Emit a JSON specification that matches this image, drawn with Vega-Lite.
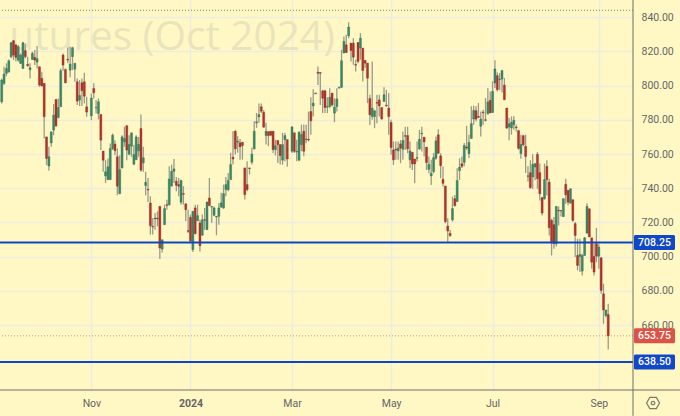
{"$schema":"https://vega.github.io/schema/vega-lite/v6.json","width":633,"height":390,"autosize":{"type":"none"},"padding":{"left":0,"top":0,"right":47,"bottom":26},"background":"#FFF8C5","config":{"view":{"stroke":null}},"data":{"values":[
{"i":0,"open":790.5,"high":804.2,"low":789.5,"close":803.2},{"i":1,"open":801.3,"high":811,"low":800.3,"close":806.7},{"i":2,"open":807.1,"high":813,"low":805.5,"close":810},{"i":3,"open":808,"high":815.3,"low":807.5,"close":814.5},{"i":4,"open":816.9,"high":825.6,"low":815.9,"close":825},{"i":5,"open":826.2,"high":826.6,"low":814.9,"close":817.8},{"i":6,"open":823.7,"high":824.5,"low":814,"close":816.5},{"i":7,"open":814.9,"high":823.7,"low":813.9,"close":822.7},{"i":8,"open":813,"high":818.8,"low":812.6,"close":817.8},{"i":9,"open":810,"high":825.6,"low":810,"close":825},{"i":10,"open":820.4,"high":824.6,"low":815.9,"close":816.9},{"i":11,"open":812.4,"high":816.9,"low":811,"close":811.6},{"i":12,"open":809.2,"high":813,"low":804.2,"close":810.4},{"i":13,"open":815.3,"high":819.8,"low":814.9,"close":818.8},{"i":14,"open":816.5,"high":820.8,"low":812,"close":814.9},{"i":15,"open":813.7,"high":823.1,"low":810,"close":815.7},{"i":16,"open":811,"high":811,"low":799.3,"close":800.3},{"i":17,"open":804.2,"high":808,"low":799.7,"close":799.7},{"i":18,"open":801.3,"high":801.3,"low":769,"close":781.8},{"i":19,"open":770,"high":770,"low":753.5,"close":757.4},{"i":20,"open":753,"high":764.2,"low":750.2,"close":758.4},{"i":21,"open":766.5,"high":773,"low":764.2,"close":773},{"i":22,"open":774,"high":789.2,"low":771,"close":782.7},{"i":23,"open":791.9,"high":791.9,"low":776.3,"close":776.3},{"i":24,"open":781.4,"high":792.5,"low":780.8,"close":787.2},{"i":25,"open":787.6,"high":810,"low":787.6,"close":808.7},{"i":26,"open":817.8,"high":818.8,"low":808.7,"close":812},{"i":27,"open":809.4,"high":810,"low":801.3,"close":801.6},{"i":28,"open":815.3,"high":822.3,"low":813,"close":814.9},{"i":29,"open":809,"high":822.7,"low":804.8,"close":812.6},{"i":30,"open":816.9,"high":822.7,"low":809,"close":822.1},{"i":31,"open":809.6,"high":813,"low":802.2,"close":813},{"i":32,"open":802.2,"high":804.2,"low":788.6,"close":790.9},{"i":33,"open":791.5,"high":803.2,"low":788,"close":794.2},{"i":34,"open":801.6,"high":804.2,"low":788,"close":797},{"i":35,"open":802.2,"high":807.5,"low":789.5,"close":793.8},{"i":36,"open":787.6,"high":793.5,"low":781.8,"close":784.5},{"i":38,"open":782.3,"high":795.4,"low":779.8,"close":792.7},{"i":39,"open":798.3,"high":801.3,"low":792.5,"close":795.8},{"i":40,"open":787,"high":791.5,"low":783.7,"close":787.2},{"i":41,"open":783.7,"high":792.5,"low":780.2,"close":790.5},{"i":42,"open":783.1,"high":783.1,"low":762.3,"close":768.1},{"i":43,"open":761.7,"high":761.7,"low":749.6,"close":756.4},{"i":44,"open":747.2,"high":756.4,"low":743.1,"close":749.6},{"i":45,"open":745.1,"high":757.4,"low":744.7,"close":752.5},{"i":46,"open":745.1,"high":766.2,"low":744.7,"close":763.2},{"i":47,"open":763.2,"high":772,"low":762.3,"close":771},{"i":48,"open":765.8,"high":768.1,"low":759.3,"close":761.9},{"i":49,"open":758.4,"high":763.2,"low":735.9,"close":741.2},{"i":50,"open":736.9,"high":759.3,"low":736.5,"close":750.9},{"i":51,"open":751.9,"high":771,"low":751.5,"close":770},{"i":52,"open":767.1,"high":775.9,"low":764.2,"close":769},{"i":53,"open":776.5,"high":776.9,"low":756.4,"close":762.3},{"i":54,"open":759.9,"high":771,"low":759.3,"close":765.6},{"i":55,"open":764.6,"high":772.4,"low":758.4,"close":772.4},{"i":56,"open":754.1,"high":765.2,"low":753.5,"close":759.7},{"i":57,"open":756.8,"high":771,"low":756.4,"close":770},{"i":58,"open":761.9,"high":770,"low":758.4,"close":765.6},{"i":59,"open":774.9,"high":783.1,"low":749.6,"close":750.6},{"i":60,"open":754.8,"high":764.2,"low":749.6,"close":757.8},{"i":61,"open":741.6,"high":749.6,"low":735.9,"close":743.5},{"i":62,"open":739.4,"high":746,"low":732,"close":739},{"i":63,"open":731.4,"high":735.3,"low":712.9,"close":718.1},{"i":64,"open":717.7,"high":722.6,"low":712.9,"close":717.4},{"i":65,"open":722.6,"high":725.6,"low":715.8,"close":722.2},{"i":66,"open":722,"high":726.5,"low":717.7,"close":722.6},{"i":67,"open":729.4,"high":729.4,"low":698.6,"close":705.1},{"i":68,"open":704.5,"high":709.9,"low":702.5,"close":709.9},{"i":69,"open":718.7,"high":730.4,"low":718.7,"close":728.1},{"i":70,"open":730.4,"high":733.3,"low":727.5,"close":730},{"i":71,"open":730.4,"high":752.9,"low":729.8,"close":745.4},{"i":72,"open":741.2,"high":753.8,"low":741.2,"close":749.9},{"i":73,"open":749.9,"high":757.1,"low":743.1,"close":751.3},{"i":74,"open":744.1,"high":746.6,"low":738.2,"close":741.7},{"i":75,"open":742.1,"high":746,"low":735.3,"close":741.2},{"i":76,"open":731.8,"high":745,"low":730.4,"close":744.5},{"i":77,"open":736.9,"high":741.2,"low":730.4,"close":736.5},{"i":78,"open":730.8,"high":731.4,"low":720.7,"close":727.5},{"i":79,"open":715.2,"high":727.5,"low":713.9,"close":714.8},{"i":80,"open":723,"high":724.6,"low":709,"close":709},{"i":81,"open":704.1,"high":726.5,"low":702.7,"close":726.5},{"i":82,"open":728.5,"high":730.4,"low":712.9,"close":713.5},{"i":83,"open":721.1,"high":730.4,"low":720.7,"close":724},{"i":84,"open":719.7,"high":721.6,"low":703.1,"close":706.4},{"i":85,"open":712.5,"high":724.6,"low":712.5,"close":721.6},{"i":86,"open":721.6,"high":728.5,"low":715.8,"close":721.3},{"i":87,"open":715.8,"high":732,"low":715.8,"close":732},{"i":88,"open":734.3,"high":746,"low":729.8,"close":729.8},{"i":89,"open":729,"high":729.4,"low":719.7,"close":729.4},{"i":90,"open":724.2,"high":729.4,"low":723.6,"close":728.5},{"i":91,"open":723.2,"high":723.6,"low":712.5,"close":723.6},{"i":92,"open":723.6,"high":731.4,"low":718.7,"close":728.5},{"i":93,"open":729.1,"high":737.3,"low":728.5,"close":731.4},{"i":94,"open":728.5,"high":742.1,"low":727.9,"close":736.9},{"i":95,"open":739.2,"high":746.6,"low":735.3,"close":742.1},{"i":96,"open":739.2,"high":748.9,"low":738.2,"close":744.5},{"i":97,"open":745,"high":760.7,"low":745,"close":753.8},{"i":98,"open":758.1,"high":773.3,"low":753.8,"close":757.1},{"i":99,"open":773.3,"high":773.9,"low":759.7,"close":763},{"i":100,"open":766.9,"high":770.4,"low":760.7,"close":767.5},{"i":101,"open":766.5,"high":768.8,"low":756.7,"close":764.2},{"i":102,"open":766.9,"high":766.9,"low":756.7,"close":764.9},{"i":103,"open":751.9,"high":751.9,"low":733.4,"close":736.3},{"i":104,"open":742.1,"high":755.8,"low":738.2,"close":739.2},{"i":105,"open":751.9,"high":751.9,"low":748,"close":751.5},{"i":106,"open":755.2,"high":763.6,"low":753.8,"close":760},{"i":107,"open":763,"high":779.2,"low":762.6,"close":773.3},{"i":108,"open":778.2,"high":784,"low":775.3,"close":778.8},{"i":109,"open":781.7,"high":789.5,"low":778.2,"close":783.1},{"i":110,"open":787.6,"high":789.5,"low":784,"close":785},{"i":111,"open":784.4,"high":785.6,"low":775.3,"close":775.7},{"i":112,"open":770.8,"high":778.2,"low":765.5,"close":773.3},{"i":113,"open":773.1,"high":773.1,"low":764.6,"close":770.8},{"i":114,"open":773.3,"high":773.3,"low":770.4,"close":771},{"i":115,"open":773.3,"high":773.3,"low":760.6,"close":762.6},{"i":116,"open":762.6,"high":768.4,"low":759.1,"close":764.9},{"i":117,"open":767.9,"high":767.9,"low":754.8,"close":765.5},{"i":118,"open":765.5,"high":765.5,"low":753.8,"close":759.1},{"i":119,"open":756.4,"high":772.4,"low":753.8,"close":765.5},{"i":120,"open":768.4,"high":772.4,"low":755.8,"close":770.8},{"i":121,"open":768.4,"high":768.4,"low":752.5,"close":757.1},{"i":123,"open":761.6,"high":775.9,"low":760.6,"close":775.9},{"i":124,"open":772.4,"high":772.4,"low":760.6,"close":761.6},{"i":125,"open":761.2,"high":768.4,"low":755.8,"close":761.6},{"i":126,"open":756.4,"high":773.3,"low":755.8,"close":772.7},{"i":127,"open":765.5,"high":777.2,"low":761.6,"close":771.4},{"i":128,"open":773.3,"high":777.2,"low":758.7,"close":761.6},{"i":129,"open":768.4,"high":777.1,"low":766.3,"close":768.8},{"i":130,"open":768.6,"high":784.8,"low":767.3,"close":768.2},{"i":131,"open":784.8,"high":793.2,"low":771.2,"close":779.4},{"i":132,"open":788.1,"high":797.9,"low":781.9,"close":789.7},{"i":133,"open":795.2,"high":795.9,"low":795,"close":795.6},{"i":134,"open":807.8,"high":811.2,"low":800.4,"close":807.2},{"i":135,"open":807.6,"high":807.6,"low":788.7,"close":807.2},{"i":136,"open":796.9,"high":797.5,"low":783.9,"close":792.6},{"i":137,"open":796.9,"high":797.5,"low":783.9,"close":787.2},{"i":138,"open":787.4,"high":793.2,"low":783.9,"close":787.8},{"i":139,"open":787.8,"high":798.5,"low":786.8,"close":793.2},{"i":140,"open":795.6,"high":795.6,"low":787.8,"close":788.7},{"i":141,"open":783.9,"high":792.6,"low":778.6,"close":787.4},{"i":142,"open":787.8,"high":798.5,"low":784.8,"close":792.2},{"i":143,"open":798.5,"high":799.4,"low":798.5,"close":798.9},{"i":144,"open":799,"high":820.9,"low":798.5,"close":814.5},{"i":145,"open":819,"high":828.7,"low":819,"close":825.8},{"i":146,"open":823.8,"high":829.7,"low":819,"close":819.3},{"i":147,"open":829.1,"high":837,"low":827.7,"close":834.2},{"i":148,"open":824.8,"high":824.8,"low":814.1,"close":820.5},{"i":149,"open":824.8,"high":827.7,"low":812.1,"close":816.6},{"i":150,"open":812.3,"high":815.1,"low":808.2,"close":811.9},{"i":151,"open":825.2,"high":825.2,"low":813.1,"close":814.1},{"i":152,"open":821.9,"high":830.6,"low":815.1,"close":827.7},{"i":153,"open":821.9,"high":821.9,"low":802.4,"close":808.8},{"i":154,"open":814.7,"high":814.7,"low":810.2,"close":813.1},{"i":155,"open":813.1,"high":813.1,"low":789.7,"close":804.3},{"i":156,"open":792.4,"high":794.6,"low":777,"close":782.9},{"i":157,"open":781.9,"high":814.1,"low":780,"close":786.8},{"i":158,"open":781.9,"high":785.8,"low":775.1,"close":785.2},{"i":159,"open":790.1,"high":794.6,"low":778,"close":789.7},{"i":160,"open":791.6,"high":794.6,"low":781.9,"close":788.1},{"i":161,"open":787.2,"high":787.2,"low":780,"close":780.5},{"i":162,"open":790.7,"high":799,"low":790.7,"close":794.6},{"i":163,"open":788.5,"high":797.5,"low":787.7,"close":788.1},{"i":164,"open":786.8,"high":795.6,"low":771.2,"close":781.9},{"i":165,"open":778.4,"high":780,"low":759.5,"close":763.8},{"i":166,"open":762.4,"high":767.3,"low":753.6,"close":756.6},{"i":167,"open":762.8,"high":767.3,"low":756.6,"close":762.4},{"i":168,"open":761.8,"high":767.3,"low":756.6,"close":763.4},{"i":169,"open":765.9,"high":768.2,"low":754.6,"close":763.4},{"i":170,"open":762.8,"high":773.1,"low":756.6,"close":767.9},{"i":171,"open":770.7,"high":776,"low":762.4,"close":770.4},{"i":172,"open":770.8,"high":776,"low":760.5,"close":763},{"i":173,"open":756.6,"high":767.3,"low":751.7,"close":761.8},{"i":174,"open":761,"high":761,"low":750.7,"close":754.2},{"i":175,"open":757.1,"high":757.1,"low":742.9,"close":754.2},{"i":176,"open":757.5,"high":767.3,"low":755.6,"close":757.9},{"i":177,"open":763,"high":774.1,"low":762.4,"close":768.6},{"i":178,"open":771.8,"high":776,"low":761.4,"close":772.2},{"i":179,"open":769.8,"high":769.8,"low":758.5,"close":767.1},{"i":180,"open":764,"high":764,"low":750.7,"close":755},{"i":181,"open":751.1,"high":758.5,"low":748.7,"close":754},{"i":182,"open":747.2,"high":756.6,"low":741.9,"close":748.7},{"i":183,"open":749.7,"high":760.5,"low":748.7,"close":757.9},{"i":184,"open":757.5,"high":770.2,"low":756.6,"close":767.7},{"i":185,"open":771.2,"high":774.5,"low":760.4,"close":760.4},{"i":186,"open":758.9,"high":760.5,"low":745.8,"close":753.2},{"i":187,"open":745.2,"high":752.7,"low":741,"close":742.9},{"i":188,"open":741.3,"high":741.3,"low":719.5,"close":720.5},{"i":189,"open":717.9,"high":722.4,"low":708.8,"close":715},{"i":190,"open":713.6,"high":715.6,"low":711.7,"close":712.3},{"i":191,"open":721.5,"high":735.1,"low":720.5,"close":728.1},{"i":192,"open":733.9,"high":736.1,"low":729.3,"close":729.8},{"i":193,"open":732.2,"high":751.7,"low":732.2,"close":744.5},{"i":194,"open":750.3,"high":757.5,"low":744.8,"close":752.3},{"i":195,"open":754.3,"high":758.6,"low":751.8,"close":752.8},{"i":196,"open":755.1,"high":766.4,"low":752.8,"close":765},{"i":197,"open":764.1,"high":776.5,"low":762.5,"close":763.5},{"i":198,"open":760.2,"high":771.3,"low":757.6,"close":766.8},{"i":199,"open":769.1,"high":787.9,"low":769.1,"close":777.7},{"i":200,"open":780.4,"high":788.2,"low":777.1,"close":785.5},{"i":201,"open":785.3,"high":787.9,"low":779,"close":780.4},{"i":202,"open":782,"high":789.8,"low":781,"close":781.4},{"i":203,"open":776.2,"high":784.9,"low":770.3,"close":780.4},{"i":204,"open":784.5,"high":785.9,"low":777.1,"close":784.1},{"i":205,"open":780,"high":792.7,"low":779,"close":779.7},{"i":206,"open":783.6,"high":798.6,"low":783,"close":790.4},{"i":207,"open":791.4,"high":796.6,"low":784,"close":784},{"i":208,"open":784.3,"high":802.5,"low":784,"close":796.6},{"i":209,"open":801.5,"high":814.8,"low":798.6,"close":809.7},{"i":210,"open":805.8,"high":807.7,"low":796.6,"close":797.6},{"i":211,"open":803.5,"high":807.4,"low":797.2,"close":803.8},{"i":212,"open":803.8,"high":809.3,"low":796,"close":808.7},{"i":213,"open":800.3,"high":804.4,"low":791.4,"close":791.8},{"i":214,"open":786.9,"high":786.9,"low":774.6,"close":775.2},{"i":215,"open":775.8,"high":781,"low":768,"close":777.7},{"i":216,"open":775.2,"high":782,"low":771.3,"close":778.5},{"i":217,"open":777.1,"high":782,"low":774.2,"close":779.7},{"i":218,"open":775.8,"high":777.1,"low":773.2,"close":775.4},{"i":219,"open":773.6,"high":774.2,"low":762.5,"close":763.3},{"i":220,"open":760.2,"high":771.3,"low":757.2,"close":765.6},{"i":221,"open":770.7,"high":771.3,"low":764.5,"close":765.4},{"i":222,"open":764.5,"high":771.3,"low":748.9,"close":758.6},{"i":223,"open":746.9,"high":752.8,"low":744,"close":747.3},{"i":224,"open":749.1,"high":756.3,"low":739.7,"close":740.3},{"i":225,"open":746.6,"high":759.8,"low":739.7,"close":754},{"i":226,"open":752.4,"high":754.4,"low":744.6,"close":754.4},{"i":227,"open":759.8,"high":761.2,"low":739.7,"close":745.6},{"i":228,"open":749.1,"high":754.4,"low":732.9,"close":736.8},{"i":229,"open":734.5,"high":734.8,"low":724.1,"close":725.5},{"i":230,"open":733.9,"high":754.4,"low":733.3,"close":745},{"i":231,"open":752.8,"high":756.3,"low":735.8,"close":745},{"i":232,"open":743.6,"high":745.6,"low":712.4,"close":716.9},{"i":233,"open":721.2,"high":722.2,"low":700.7,"close":708.5},{"i":234,"open":718.7,"high":723.2,"low":704.6,"close":707.6},{"i":235,"open":707.6,"high":729.4,"low":706,"close":729.4},{"i":236,"open":727,"high":729.4,"low":718.3,"close":726.7},{"i":237,"open":727,"high":727,"low":723.5,"close":726.7},{"i":238,"open":723.5,"high":733.9,"low":723.2,"close":733.9},{"i":239,"open":742.3,"high":745.6,"low":731,"close":736.2},{"i":240,"open":738.8,"high":738.8,"low":730,"close":731.9},{"i":241,"open":731.3,"high":739.7,"low":731,"close":739.7},{"i":242,"open":733.3,"high":733.3,"low":720.2,"close":721.2},{"i":243,"open":719.3,"high":720.2,"low":699.8,"close":712.4},{"i":244,"open":700.7,"high":710.5,"low":692,"close":694.9},{"i":245,"open":700.1,"high":710.5,"low":691,"close":701.3},{"i":246,"open":691.6,"high":701.7,"low":689,"close":700.7},{"i":247,"open":700.7,"high":711.5,"low":700.7,"close":711},{"i":248,"open":713.8,"high":731.3,"low":713.4,"close":729.4},{"i":249,"open":728,"high":728,"low":711.5,"close":711.5},{"i":250,"open":711,"high":711,"low":692.9,"close":696.8},{"i":251,"open":700.1,"high":707.6,"low":689,"close":691},{"i":252,"open":707.6,"high":716.9,"low":696.8,"close":700.3},{"i":253,"open":700.3,"high":707.6,"low":692.9,"close":705.6},{"i":254,"open":699.4,"high":699.4,"low":678.3,"close":680.3},{"i":255,"open":678.3,"high":684.2,"low":660.8,"close":668.9},{"i":256,"open":665.6,"high":668.9,"low":664.6,"close":668.9},{"i":257,"open":666.2,"high":672.5,"low":645.7,"close":653.75}
]},"layer":[
{"data":{"values":[{"name":"utures (Oct 2024)","i":141.2,"price":820.5}]},"mark":{"type":"text","align":"right","baseline":"alphabetic","font":"Open Sans","fontSize":40.5,"color":"#EAE4BC"},"encoding":{"x":{"field":"i","type":"quantitative","scale":{"domain":[-0.72,267.5],"nice":false,"zero":false,"padding":0},"title":null,"axis":{"values":[38,80,123,165,208,253],"labelExpr":"datum.value==38?'Nov':datum.value==80?'2024':datum.value==123?'Mar':datum.value==165?'May':datum.value==208?'Jul':'Sep'","labelFont":"Roboto","labelFontSize":10.5,"labelColor":"#666666","labelPadding":8,"labelOverlap":false,"labelFontWeight":{"condition":{"test":"datum.value==80","value":"bold"},"value":"normal"},"domain":false,"ticks":false,"grid":true,"gridColor":"#EEEBDF","gridWidth":1.5}},"y":{"field":"price","type":"quantitative","scale":{"domain":[622.1,850],"nice":false,"zero":false,"padding":0},"title":null,"axis":{"orient":"right","values":[660,680,700,720,740,760,780,800,820,840],"format":".2f","labelFont":"Roboto","labelFontSize":10.5,"labelColor":"#666666","labelPadding":8,"labelOverlap":false,"domain":false,"ticks":false,"grid":true,"gridColor":"#EEEBDF","gridWidth":1.5}},"text":{"field":"name"}}},
{"data":{"values":[{"price":844}]},"mark":{"type":"rule","color":"#808070","strokeWidth":1,"strokeDash":[1,2]},"encoding":{"y":{"field":"price","type":"quantitative"}}},
{"data":{"values":[{"price":653.75}]},"mark":{"type":"rule","color":"#E88E7E","strokeWidth":1,"strokeDash":[1,2]},"encoding":{"y":{"field":"price","type":"quantitative"}}},
{"mark":{"type":"rule","color":"#9A9A88","strokeWidth":1.3},"encoding":{"x":{"field":"i","type":"quantitative"},"y":{"field":"low","type":"quantitative"},"y2":{"field":"high"}}},
{"mark":{"type":"bar","orient":"vertical","size":2,"strokeWidth":0.4},"encoding":{"x":{"field":"i","type":"quantitative","scale":{"padding":0}},"y":{"field":"open","type":"quantitative"},"y2":{"field":"close"},"color":{"condition":{"test":"datum.close>=datum.open","value":"#3B8A66"},"value":"#B5332A"},"stroke":{"condition":{"test":"datum.close>=datum.open","value":"#2E6E50"},"value":"#8A2A22"}}},
{"data":{"values":[{"price":708.25},{"price":638.5}]},"mark":{"type":"rule","color":"#0D47C8","strokeWidth":2},"encoding":{"y":{"field":"price","type":"quantitative"}}},
{"data":{"values":[{}]},"mark":{"type":"rule","color":"#6E6E64","strokeWidth":1},"encoding":{"x":{"datum":267.5},"y":{"datum":850},"y2":{"datum":607}}},
{"data":{"values":[{}]},"mark":{"type":"rule","color":"#6E6E64","strokeWidth":1},"encoding":{"y":{"datum":622.1},"x":{"datum":-0.72},"x2":{"datum":287.4}}},
{"data":{"values":[{"price":708.25,"tag":"level","label":"708.25"},{"price":653.75,"tag":"last","label":"653.75"},{"price":638.5,"tag":"level","label":"638.50"}]},"mark":{"type":"bar","orient":"horizontal","size":15,"cornerRadius":1.5},"encoding":{"y":{"field":"price","type":"quantitative","scale":{"padding":0}},"x":{"datum":267.9},"x2":{"datum":285.3},"color":{"field":"tag","type":"nominal","legend":null,"scale":{"domain":["level","last"],"range":["#1048C8","#DB5347"]}}}},
{"data":{"values":[{"price":708.25,"label":"708.25"},{"price":653.75,"label":"653.75"},{"price":638.5,"label":"638.50"}]},"mark":{"type":"text","font":"Roboto","fontSize":10.5,"fontWeight":500,"color":"#FFFFFF","align":"center","baseline":"middle"},"encoding":{"y":{"field":"price","type":"quantitative"},"x":{"datum":276.6},"text":{"field":"label"}}},
{"data":{"values":[{}]},"mark":{"type":"point","shape":"M -1 0 L -0.5 -0.87 L 0.5 -0.87 L 1 0 L 0.5 0.87 L -0.5 0.87 Z","size":169,"filled":false,"color":"#444444","strokeWidth":1.2},"encoding":{"x":{"datum":276},"y":{"datum":614.5}}},
{"data":{"values":[{}]},"mark":{"type":"point","shape":"circle","size":12,"filled":false,"color":"#444444","strokeWidth":1.2},"encoding":{"x":{"datum":276},"y":{"datum":614.5}}}
]}
